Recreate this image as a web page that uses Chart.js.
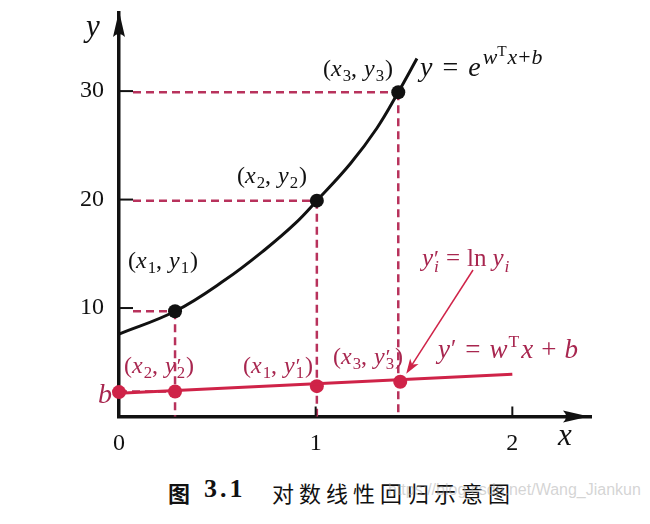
<!DOCTYPE html>
<html>
<head>
<meta charset="utf-8">
<script src="https://cdn.jsdelivr.net/npm/chart.js@4"></script>
<style>
  html, body { margin: 0; padding: 0; background: #fff; }
  #wrap { position: relative; width: 650px; height: 524px; overflow: hidden; }
  #box { position: absolute; left: 0; top: 0; width: 650px; height: 470px; }
  .cap { position: absolute; top: 476px; color: #111; white-space: nowrap; }
  #fig { left: 168px; font: bold 22px "Noto Sans CJK SC"; }
  #num { left: 204px; top: 474px; font: bold 26px "Liberation Serif"; letter-spacing: 3px; }
  #txt { left: 272px; font: 22px "Noto Sans CJK SC"; letter-spacing: 5px; }
  #mark { position: absolute; left: 388px; top: 481px; font: 16px "Liberation Sans"; color: rgba(170,170,170,0.5); white-space: nowrap; }
</style>
</head>
<body>
<div id="wrap">
  <div id="box"><canvas id="myChart"></canvas></div>
  <span class="cap" id="fig">图</span>
  <span class="cap" id="num">3.1</span>
  <span class="cap" id="txt">对数线性回归示意图</span>
  <span id="mark">https://blog.csdn.net/Wang_Jiankun</span>
</div>
<script>
// exponential curve y = e^(w'x+b)
const curveX = [0, 0.285, 0.54, 0.743, 0.896, 1.006, 1.176, 1.312, 1.42, 1.515]
const curveY = [7.6, 9.7, 12.6, 15.4, 17.8, 19.9, 23.3, 26.6, 29.9, 33.0]
// sample points (x1,y1) (x2,y2) (x3,y3)
const sampleX = [0.285, 1.006, 1.42]
const sampleY = [9.7, 19.9, 29.9]
// log-transformed points: b, (x2,y2'), (x1,y1'), (x3,y3')
const logX = [0, 0.285, 1.006, 1.43]
const logY = [2.25, 2.3, 2.8, 3.2]
// fitted line y' = w'x + b
const fitX = [0, 2.0]
const fitY = [2.15, 3.9]
// ticks
const xTickVals = [0, 1, 2]
const yTickVals = [10, 20, 30]

const black = '#111111'
const red = '#cf2348'
const dashRed = '#b8325c'
const textRed = '#a8264f'
const serif = '"Liberation Serif", "DejaVu Serif", serif'

const pts = (xs, ys) => xs.map((x, i) => ({ x: x, y: ys[i] }))

// runs: [text, italic, scale, dy (in em), noAdvance]; a number alone is a gap in px
function mathText(ctx, x, y, runs, size, color) {
  ctx.save()
  ctx.fillStyle = color
  ctx.textAlign = 'left'
  ctx.textBaseline = 'alphabetic'
  let cx = x
  runs.forEach(r => {
    if (typeof r === 'number') { cx += r; return }
    const s = size * (r[2] || 1)
    ctx.font = (r[1] ? 'italic ' : '') + s + 'px ' + serif
    ctx.fillText(r[0], cx, y + (r[3] || 0) * size)
    if (!r[4]) cx += ctx.measureText(r[0]).width
  })
  ctx.restore()
}

function coord(i, prime) {
  const runs = [['(', 0], ['x', 1], 1, [i, 0, 0.7, 0.22], [',', 0], 7, ['y', 1], 1]
  if (prime) runs.push(['\u2032', 0, 0.9, -0.02, true])
  runs.push([i, 0, 0.7, 0.22], 1, [')', 0])
  return runs
}

const figure = {
  id: 'figure',
  beforeDatasetsDraw(chart) {
    const ctx = chart.ctx, xs = chart.scales.x, ys = chart.scales.y
    const x0 = xs.getPixelForValue(0), y0 = ys.getPixelForValue(0)
    ctx.save()
    ctx.strokeStyle = dashRed
    ctx.lineWidth = 2.5
    ctx.setLineDash([8, 5])
    sampleX.forEach((v, i) => {
      const px = xs.getPixelForValue(v), py = ys.getPixelForValue(sampleY[i])
      ctx.beginPath()
      ctx.moveTo(x0 + 14, py); ctx.lineTo(px, py)
      ctx.moveTo(px, py); ctx.lineTo(px, y0)
      ctx.stroke()
    })
    // projection of (x2, y2') onto the y axis
    const ry = ys.getPixelForValue(logY[1])
    ctx.beginPath()
    ctx.moveTo(x0, ry); ctx.lineTo(xs.getPixelForValue(logX[1]), ry)
    ctx.stroke()
    ctx.restore()
  },
  afterDatasetsDraw(chart) {
    const ctx = chart.ctx, xs = chart.scales.x, ys = chart.scales.y
    const a = chart.chartArea
    ctx.save()
    // inward tick marks
    ctx.strokeStyle = black
    ctx.lineWidth = 2
    yTickVals.forEach(v => {
      const py = ys.getPixelForValue(v)
      ctx.beginPath(); ctx.moveTo(a.left, py); ctx.lineTo(a.left + 14, py); ctx.stroke()
    })
    xTickVals.slice(1).forEach(v => {
      const px = xs.getPixelForValue(v)
      ctx.beginPath(); ctx.moveTo(px, a.bottom); ctx.lineTo(px, a.bottom - 10); ctx.stroke()
    })
    // arrow heads
    ctx.fillStyle = black
    ctx.beginPath()
    ctx.moveTo(a.left, a.top - 2)
    ctx.lineTo(a.left + 6, a.top + 24)
    ctx.quadraticCurveTo(a.left, a.top + 18, a.left - 6, a.top + 24)
    ctx.closePath(); ctx.fill()
    ctx.beginPath()
    ctx.moveTo(a.right - 2, a.bottom)
    ctx.lineTo(a.right - 28, a.bottom - 6)
    ctx.quadraticCurveTo(a.right - 22, a.bottom, a.right - 28, a.bottom + 6)
    ctx.closePath(); ctx.fill()
    // red arrow to (x3, y3')
    const tx = xs.getPixelForValue(logX[3]) + 6, ty = ys.getPixelForValue(logY[3]) - 8
    const sx = 473, sy = 270
    const ang = Math.atan2(ty - sy, tx - sx)
    ctx.strokeStyle = red
    ctx.fillStyle = red
    ctx.lineWidth = 1.5
    ctx.beginPath(); ctx.moveTo(sx, sy); ctx.lineTo(tx - 10 * Math.cos(ang), ty - 10 * Math.sin(ang)); ctx.stroke()
    ctx.beginPath()
    ctx.moveTo(tx, ty)
    ctx.lineTo(tx - 15 * Math.cos(ang) + 5 * Math.sin(ang), ty - 15 * Math.sin(ang) - 5 * Math.cos(ang))
    ctx.lineTo(tx - 11 * Math.cos(ang), ty - 11 * Math.sin(ang))
    ctx.lineTo(tx - 15 * Math.cos(ang) - 5 * Math.sin(ang), ty - 15 * Math.sin(ang) + 5 * Math.cos(ang))
    ctx.closePath(); ctx.fill()
    ctx.restore()

    // axis letters
    mathText(ctx, 86, 36, [['y', 1]], 31, black)
    mathText(ctx, 558, 445, [['x', 1]], 31, black)

    // black annotations
    mathText(ctx, 323, 76, coord('3'), 24, black)
    mathText(ctx, 237, 183, coord('2'), 24, black)
    mathText(ctx, 128, 268, coord('1'), 24, black)
    mathText(ctx, 420, 76, [['y', 1], 10, ['=', 0], 10, ['e', 1], 2,
      ['w', 1, 0.78, -0.42], ['T', 0, 0.55, -0.72], 1, ['x', 1, 0.78, -0.42], 1, ['+', 0, 0.78, -0.42], 1, ['b', 1, 0.78, -0.42]], 28, black)

    // red annotations
    mathText(ctx, 422, 266, [['y', 1], 1, ['\u2032', 0, 0.9, -0.02, true], ['i', 1, 0.7, 0.22], 7, ['=', 0], 7, ['ln', 0], 6, ['y', 1], 1, ['i', 1, 0.7, 0.22]], 25, textRed)
    mathText(ctx, 124, 373, coord('2', true), 24, textRed)
    mathText(ctx, 243, 373, coord('1', true), 24, textRed)
    mathText(ctx, 333, 364, coord('3', true), 24, textRed)
    mathText(ctx, 438, 358, [['y', 1], 1, ['\u2032', 0, 0.9, -0.02], 9, ['=', 0], 9, ['w', 1], 1, ['T', 0, 0.65, -0.42], 2, ['x', 1], 8, ['+', 0], 8, ['b', 1]], 27, textRed)
    mathText(ctx, 98, 403, [['b', 1]], 28, textRed)
  }
}

const canvas = document.getElementById('myChart')
const myChart = new Chart(canvas, {
  type: 'line',
  data: {
    datasets: [
      {
        label: 'curve',
        data: pts(curveX, curveY),
        borderColor: black,
        borderWidth: 3,
        pointRadius: 0,
        tension: 0.4,
        clip: false
      },
      {
        label: 'samples',
        data: pts(sampleX, sampleY),
        showLine: false,
        pointRadius: 7,
        pointBackgroundColor: black,
        pointBorderWidth: 0,
        clip: false
      },
      {
        label: 'fit',
        data: pts(fitX, fitY),
        borderColor: red,
        borderWidth: 3,
        pointRadius: 0,
        clip: false
      },
      {
        label: 'log samples',
        data: pts(logX, logY),
        showLine: false,
        pointRadius: 7,
        pointBackgroundColor: red,
        pointBorderWidth: 0,
        clip: false
      }
    ]
  },
  options: {
    responsive: true,
    maintainAspectRatio: false,
    animation: false,
    layout: { padding: { top: 13, right: 59, left: 0, bottom: 0 } },
    plugins: { legend: { display: false }, tooltip: { enabled: false } },
    scales: {
      x: {
        type: 'linear',
        min: 0,
        max: 2.4,
        afterFit: s => { s.height = 53.5; s.paddingLeft = 0; s.paddingRight = 0 },
        afterBuildTicks: s => { s.ticks = xTickVals.map(v => ({ value: v })) },
        grid: { display: false },
        border: { display: true, color: black, width: 3.5 },
        ticks: { color: black, padding: 5, maxRotation: 0, font: { family: serif, size: 24 } }
      },
      y: {
        type: 'linear',
        min: 0,
        max: 37.2,
        afterFit: s => { s.width = 119; s.paddingTop = 0; s.paddingBottom = 0 },
        afterBuildTicks: s => { s.ticks = yTickVals.map(v => ({ value: v })) },
        grid: { display: false },
        border: { display: true, color: black, width: 3.5 },
        ticks: { color: black, padding: 7, font: { family: serif, size: 24 } }
      }
    }
  },
  plugins: [figure]
})
</script>
</body>
</html>
